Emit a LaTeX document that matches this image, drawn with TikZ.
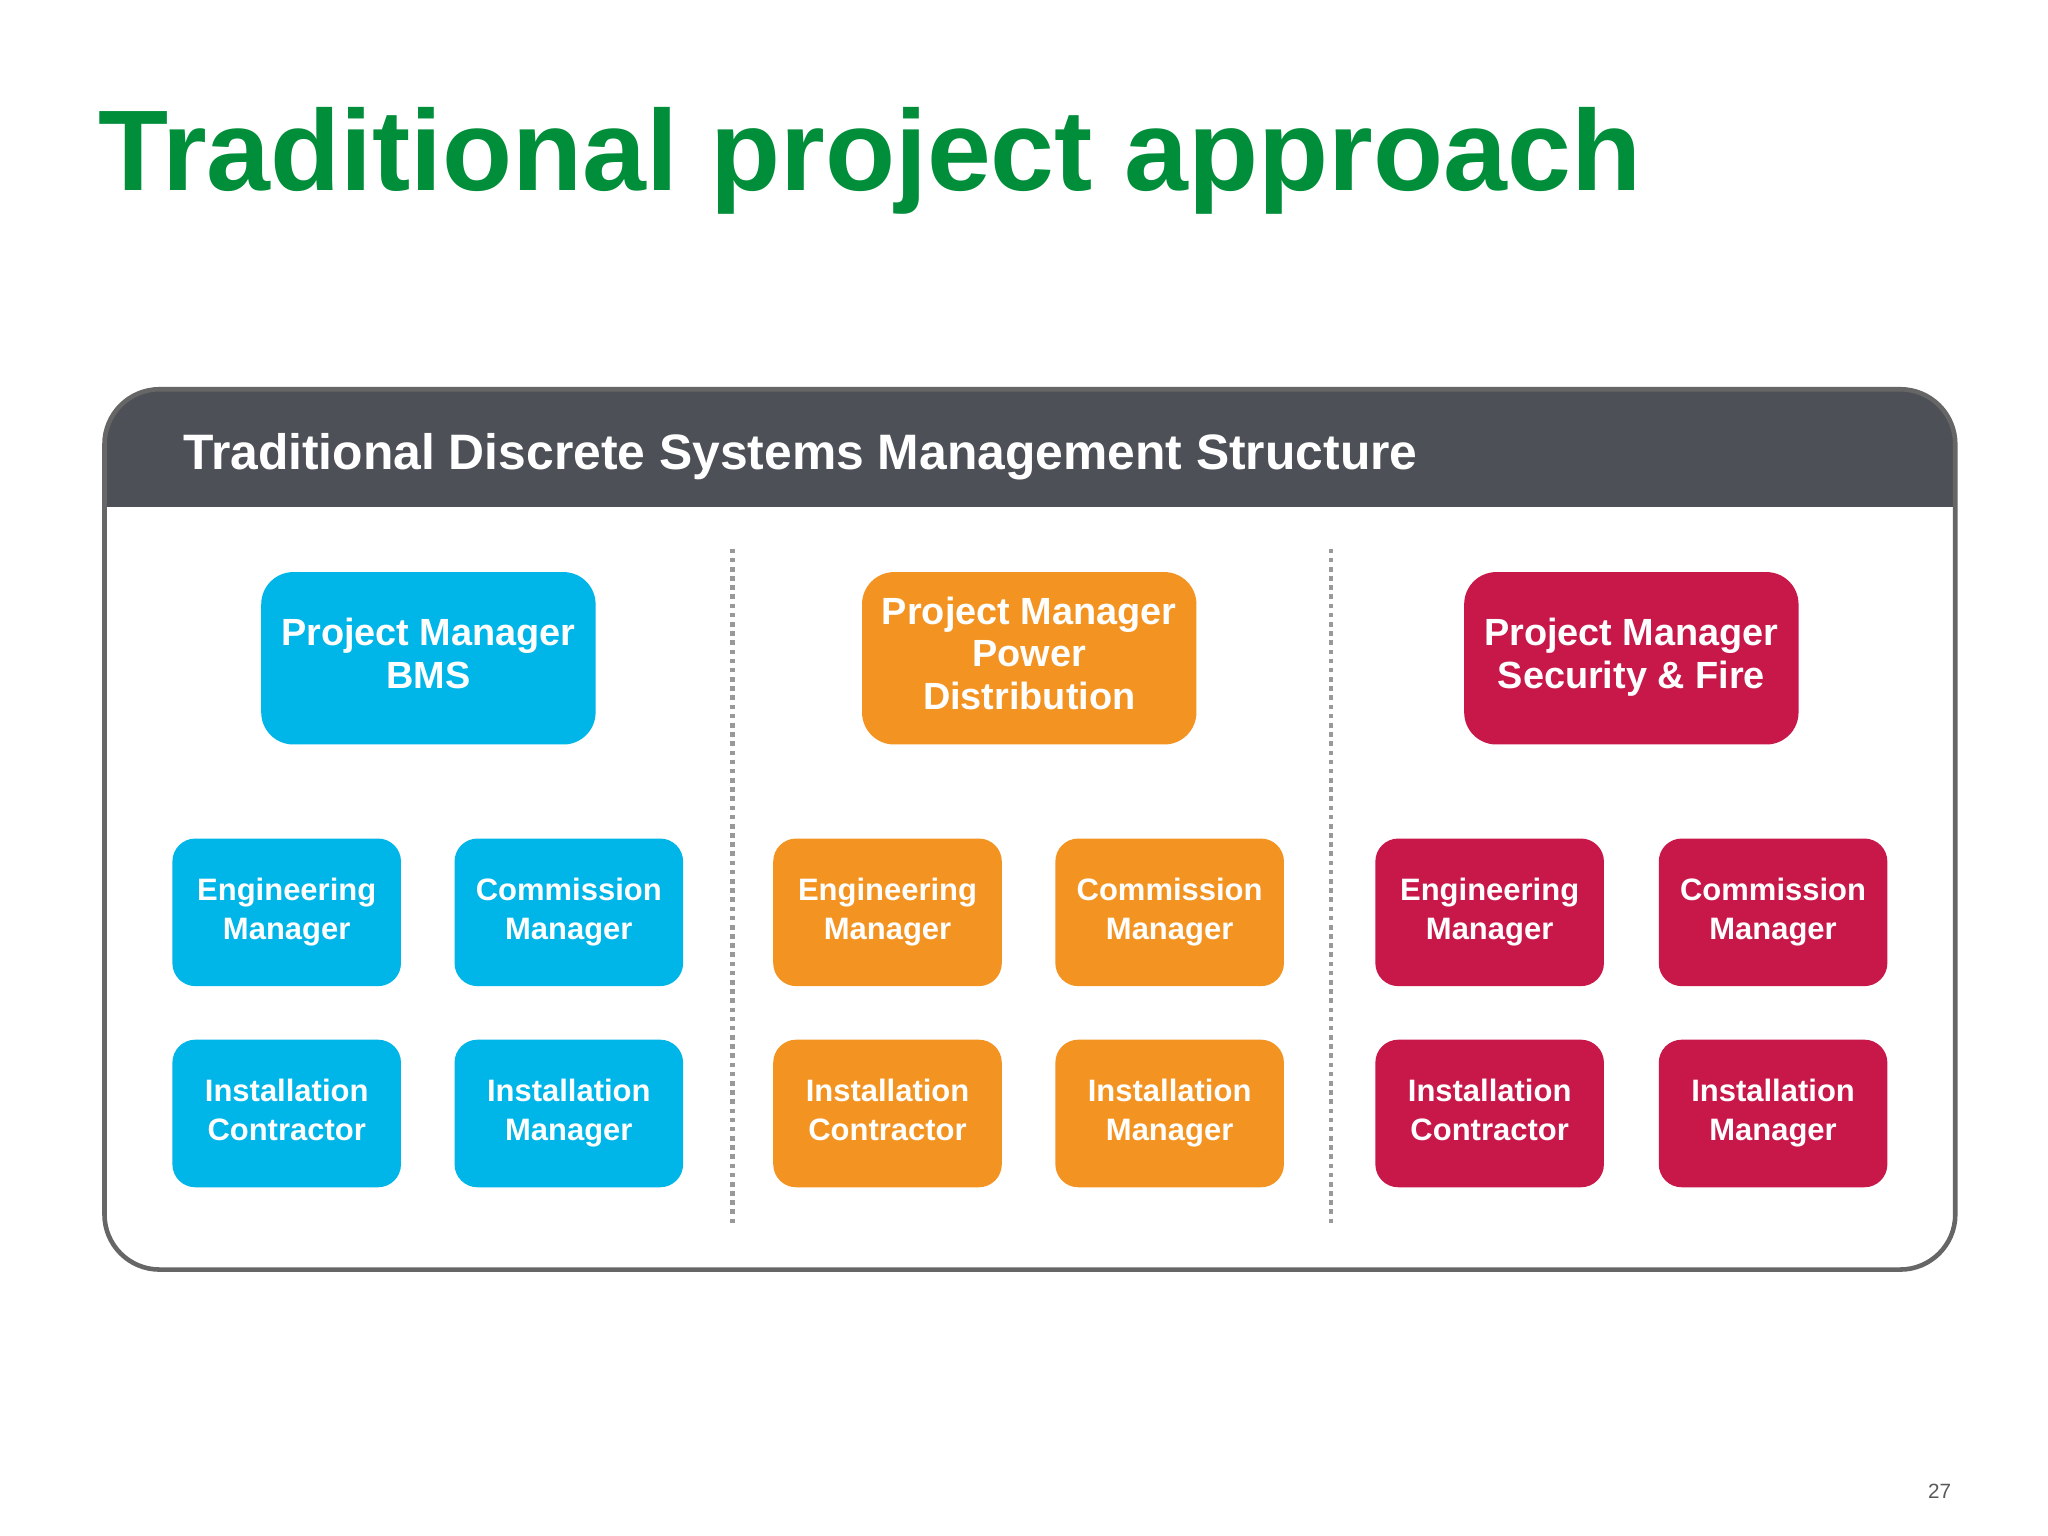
\documentclass[tikz,border=0pt]{standalone}
\usepackage{fontspec}
\setmainfont{Liberation Sans}
\definecolor{tgreen}{RGB}{0,142,58}
\definecolor{hdr}{RGB}{77,80,86}
\definecolor{bms}{RGB}{0,181,232}
\definecolor{pwr}{RGB}{243,148,34}
\definecolor{sec}{RGB}{200,24,74}
\begin{document}
\begin{tikzpicture}[x=0.02cm,y=-0.02cm,
  bigbox/.style={rounded corners=14pt,minimum width=256*0.02cm,minimum height=132*0.02cm,text=white,align=center,inner sep=0pt,font=\fontsize{16.5}{18.5}\selectfont\bfseries},
  smallbox/.style={rounded corners=10pt,minimum width=175*0.02cm,minimum height=113*0.02cm,text=white,align=center,inner sep=0pt,font=\fontsize{13.5}{17}\selectfont\bfseries},
  sep/.style={dotted,line width=2pt,draw=gray!80}]
\useasboundingbox (0,0) rectangle (1568,1176);
\fill[white] (0,0) rectangle (1568,1176);
\node[anchor=base west,text=tgreen,font=\fontsize{50}{56}\selectfont\bfseries,inner sep=0pt] (title) at (75,146) {Traditional project approach};
% panel
\fill[white,rounded corners=24pt] (80,298) rectangle (1497,972);
\begin{scope}
\clip[rounded corners=24pt] (80,298) rectangle (1497,972);
\fill[hdr] (80,298) rectangle (1497,388);
\end{scope}
\draw[gray!80!black,line width=2pt,rounded corners=24pt] (80,298) rectangle (1497,972);
\node[anchor=west,text=white,font=\fontsize{21.7}{24}\selectfont\bfseries,inner sep=0pt] (hdrtext) at (140,350) {Traditional Discrete Systems Management Structure};
\draw[sep] (561,420) -- (561,938);
\draw[sep] (1019,420) -- (1019,938);
% top boxes
\node[bigbox,fill=bms] (pmb) at (328,504) {Project Manager\strut\\BMS\strut};
\node[bigbox,fill=pwr] (pmp) at (788,504) {Project Manager\strut\\Power\strut\\Distribution\strut};
\node[bigbox,fill=sec] (pms) at (1249,504) {Project Manager\strut\\Security \& Fire\strut};
% small boxes
\foreach \c/\xa/\xb/\n in {bms/219.5/435.5/b, pwr/679.5/895.5/p, sec/1140.5/1357.5/s}{
  \node[smallbox,fill=\c] (e\n) at (\xa,698.5) {Engineering\strut\\Manager\strut};
  \node[smallbox,fill=\c] (c\n) at (\xb,698.5) {Commission\strut\\Manager\strut};
  \node[smallbox,fill=\c] (ic\n) at (\xa,852.5) {Installation\strut\\Contractor\strut};
  \node[smallbox,fill=\c] (im\n) at (\xb,852.5) {Installation\strut\\Manager\strut};
}
\node[text=gray!70!black,font=\fontsize{9}{10}\selectfont] (pg) at (1485,1142) {27};
\end{tikzpicture}
\end{document}
